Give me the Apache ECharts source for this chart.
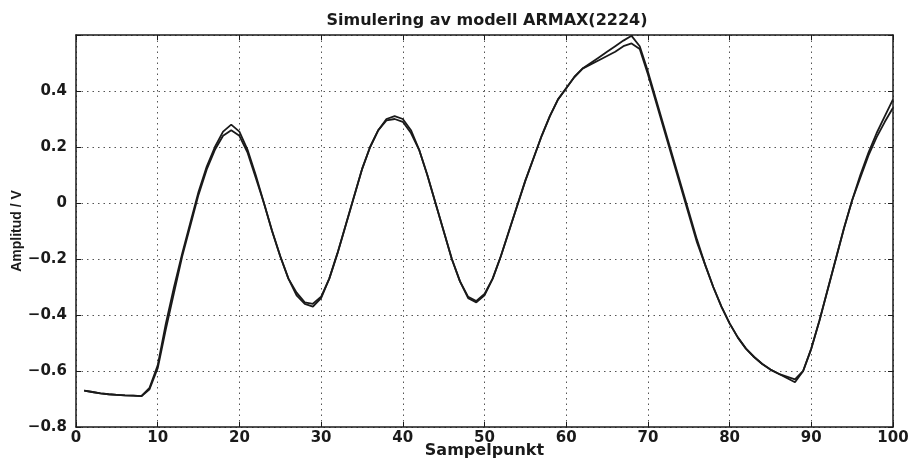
<!DOCTYPE html>
<html>
<head>
<meta charset="utf-8">
<script src="https://cdn.jsdelivr.net/npm/echarts@6/dist/echarts.min.js"></script>
<style>
  html, body { margin: 0; padding: 0; background: #fff; }
  #main { width: 910px; height: 461px; }
</style>
</head>
<body>
<div id="main"></div>
<script>
// sampelpunkt 1..100
const samples = [];
for (let i = 1; i <= 100; i++) samples.push(i);

// uppmätt signal
const measured = [
  -0.67, -0.675, -0.68, -0.683, -0.685, -0.687, -0.688, -0.69, -0.66, -0.58,
  -0.43, -0.30, -0.18, -0.07, 0.04, 0.13, 0.20, 0.255, 0.28, 0.255,
  0.19, 0.10, 0.00, -0.10, -0.19, -0.27, -0.33, -0.36, -0.37, -0.34,
  -0.27, -0.18, -0.08, 0.02, 0.12, 0.20, 0.26, 0.30, 0.31, 0.30,
  0.26, 0.19, 0.10, 0.00, -0.10, -0.20, -0.28, -0.34, -0.355, -0.33,
  -0.27, -0.19, -0.10, -0.01, 0.08, 0.16, 0.24, 0.31, 0.37, 0.41,
  0.45, 0.48, 0.50, 0.52, 0.54, 0.56, 0.58, 0.597, 0.56, 0.47,
  0.37, 0.27, 0.17, 0.07, -0.03, -0.13, -0.22, -0.30, -0.37, -0.43,
  -0.48, -0.52, -0.55, -0.575, -0.595, -0.61, -0.625, -0.64, -0.60, -0.52,
  -0.42, -0.31, -0.20, -0.09, 0.01, 0.10, 0.18, 0.25, 0.31, 0.37
];

// simulerad modell
const simulated = [
  -0.67, -0.675, -0.68, -0.683, -0.685, -0.687, -0.688, -0.69, -0.665, -0.59,
  -0.45, -0.32, -0.19, -0.08, 0.03, 0.12, 0.19, 0.24, 0.26, 0.24,
  0.18, 0.09, 0.00, -0.10, -0.19, -0.27, -0.32, -0.355, -0.36, -0.335,
  -0.27, -0.18, -0.08, 0.02, 0.12, 0.20, 0.26, 0.295, 0.30, 0.29,
  0.25, 0.19, 0.10, 0.00, -0.10, -0.20, -0.28, -0.335, -0.35, -0.325,
  -0.27, -0.19, -0.10, -0.01, 0.08, 0.16, 0.24, 0.31, 0.37, 0.41,
  0.45, 0.48, 0.495, 0.51, 0.525, 0.54, 0.56, 0.57, 0.55, 0.46,
  0.36, 0.26, 0.16, 0.06, -0.04, -0.14, -0.22, -0.30, -0.37, -0.43,
  -0.48, -0.52, -0.55, -0.575, -0.595, -0.61, -0.62, -0.63, -0.60, -0.52,
  -0.42, -0.31, -0.20, -0.09, 0.01, 0.09, 0.17, 0.235, 0.29, 0.34
];

const xTicks = [0, 10, 20, 30, 40, 50, 60, 70, 80, 90, 100];
const yTicks = [-0.8, -0.6, -0.4, -0.2, 0, 0.2, 0.4];

const wideFont = 'DejaVu Sans, Verdana, sans-serif';
const narrowFont = 'Liberation Sans, Arial, sans-serif';
const ink = '#1a1a1a';

function pairs(ys) {
  return samples.map((x, i) => [x, ys[i]]);
}

let myChart = echarts.init(document.getElementById('main'));
let option = {
  animation: false,
  backgroundColor: '#fff',
  title: {
    text: 'Simulering av modell ARMAX(2224)',
    left: 482,
    textAlign: 'center',
    top: 8,
    textStyle: { fontFamily: wideFont, fontSize: 16, fontWeight: 'bold', color: ink }
  },
  grid: { left: 76, right: 17, top: 35, bottom: 34, containLabel: false, outerBoundsMode: 'none' },
  xAxis: [
    {
      type: 'value',
      min: 0, max: 100, interval: 10,
      name: 'Sampelpunkt',
      nameLocation: 'middle',
      nameGap: 16,
      nameMoveOverlap: false,
      nameTextStyle: { fontFamily: wideFont, fontSize: 16, fontWeight: 'bold', color: ink },
      axisLine: { onZero: false, lineStyle: { color: ink, width: 1.5 } },
      axisTick: { inside: true, length: 5, lineStyle: { color: ink } },
      axisLabel: {
        fontFamily: wideFont, fontSize: 15, fontWeight: 'bold', color: ink, margin: 4,
        formatter: v => xTicks.indexOf(v) >= 0 ? String(v) : ''
      },
      splitLine: { show: true, lineStyle: { color: '#555', type: [1.5, 4], width: 1 } }
    },
    {
      type: 'value', position: 'top',
      min: 0, max: 100, interval: 10,
      axisLine: { show: true, onZero: false, lineStyle: { color: ink, width: 1.5 } },
      axisTick: { inside: true, length: 5, lineStyle: { color: ink } },
      axisLabel: { show: false },
      splitLine: { show: false }
    }
  ],
  yAxis: [
    {
      type: 'value',
      min: -0.8, max: 0.6, interval: 0.2,
      name: 'Amplitud / V',
      nameLocation: 'middle',
      nameGap: 52,
      nameMoveOverlap: false,
      nameTextStyle: { fontFamily: narrowFont, fontSize: 14, fontWeight: 'bold', color: ink },
      axisLine: { show: true, onZero: false, lineStyle: { color: ink, width: 1.5 } },
      axisTick: { inside: true, length: 5, lineStyle: { color: ink } },
      axisLabel: {
        fontFamily: wideFont, fontSize: 15, fontWeight: 'bold', color: ink, margin: 9,
        formatter: v => {
          const r = Math.round(v * 10) / 10;
          if (yTicks.indexOf(r) < 0) return '';
          return String(r).replace('-', '\u2212');
        }
      },
      splitLine: { show: true, lineStyle: { color: '#555', type: [1.5, 4], width: 1 } }
    },
    {
      type: 'value', position: 'right',
      min: -0.8, max: 0.6, interval: 0.2,
      axisLine: { show: true, onZero: false, lineStyle: { color: ink, width: 1.5 } },
      axisTick: { inside: true, length: 5, lineStyle: { color: ink } },
      axisLabel: { show: false },
      splitLine: { show: false }
    }
  ],
  series: [
    {
      name: 'Uppmätt',
      type: 'line',
      data: pairs(measured),
      showSymbol: false,
      lineStyle: { color: ink, width: 1.8 }
    },
    {
      name: 'Simulerad',
      type: 'line',
      data: pairs(simulated),
      showSymbol: false,
      lineStyle: { color: ink, width: 1.8 }
    }
  ]
};
myChart.setOption(option);

// 窗口变化，重绘图像
window.addEventListener('resize', function () {
  myChart.resize();
}, false)
</script>
</body>
</html>
